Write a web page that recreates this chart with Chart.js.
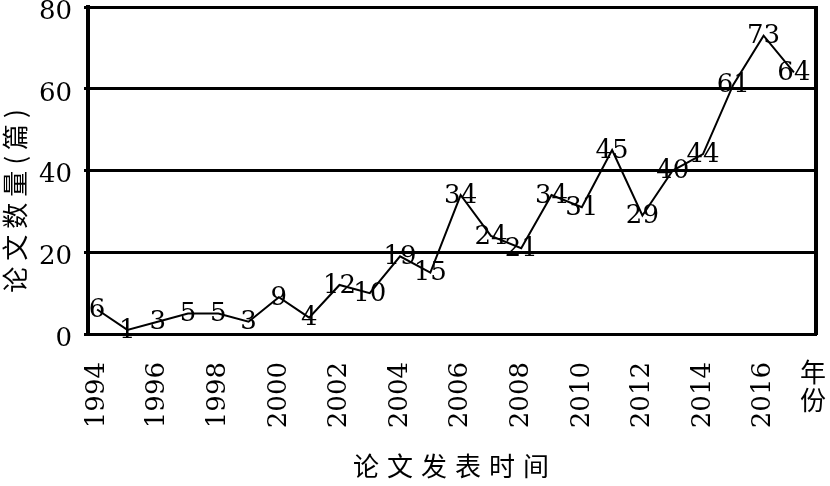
<!DOCTYPE html>
<html>
<head>
<meta charset="utf-8">
<script src="https://cdn.jsdelivr.net/npm/chart.js@4.4.1/dist/chart.umd.min.js"></script>
<style>
  body { margin: 0; background: #fff; }
  canvas { display: block; }
</style>
</head>
<body>
<canvas id="myChart" width="830" height="486"></canvas>
<script>
// data
const years = [1994, 1995, 1996, 1997, 1998, 1999, 2000, 2001, 2002, 2003, 2004, 2005,
  2006, 2007, 2008, 2009, 2010, 2011, 2012, 2013, 2014, 2015, 2016, 2017];
const counts = [6, 1, 3, 5, 5, 3, 9, 4, 12, 10, 19, 15,
  34, 24, 21, 34, 31, 45, 29, 40, 44, 61, 73, 64];
const xTickYears = [1994, 1996, 1998, 2000, 2002, 2004, 2006, 2008, 2010, 2012, 2014, 2016];
const yTicks = [0, 20, 40, 60, 80];
const lastXLabel = "年份";
const xTitle = "论文发表时间";
const yTitle = "论文数量(篇)";

const serif = "'DejaVu Serif', 'Liberation Serif', serif";
const cjk = "'Noto Sans CJK SC', sans-serif";

// labels on points, right border, titles
const extras = {
  id: "extras",
  afterDatasetsDraw(chart) {
    const ctx = chart.ctx;
    const area = chart.chartArea;
    const meta = chart.getDatasetMeta(0);
    ctx.save();
    ctx.fillStyle = "#000";
    ctx.font = "26px " + serif;
    ctx.textAlign = "center";
    ctx.textBaseline = "middle";
    meta.data.forEach((pt, i) => {
      ctx.fillText(String(counts[i]), pt.x, pt.y + 1);
    });

    // right frame line
    ctx.strokeStyle = "#000";
    ctx.lineWidth = 4;
    ctx.beginPath();
    ctx.moveTo(area.right, area.top - 1);
    ctx.lineTo(area.right, area.bottom + 1);
    ctx.stroke();
    ctx.restore();
  },
  afterDraw(chart) {
    const ctx = chart.ctx;
    const area = chart.chartArea;
    const xs = chart.scales.x;
    ctx.save();
    ctx.fillStyle = "#000";
    ctx.textAlign = "center";
    ctx.textBaseline = "middle";

    // upright label at the last year
    ctx.font = "26px " + cjk;
    const lx = xs.getPixelForValue(years[years.length - 1]) + 19;
    lastXLabel.split("").forEach((ch, i) => {
      ctx.fillText(ch, lx, area.bottom + 38 + i * 28);
    });

    // x title
    ctx.font = "26px " + cjk;
    ctx.letterSpacing = "8px";
    ctx.fillText(xTitle, 455, 466);

    // y title
    ctx.letterSpacing = "6px";
    ctx.translate(15, 198);
    ctx.rotate(-Math.PI / 2);
    ctx.fillText(yTitle, 0, 0);
    ctx.restore();
  },
};

const ctx = document.getElementById("myChart").getContext("2d");
const chart = new Chart(ctx, {
  type: "line",
  data: {
    datasets: [
      {
        data: years.map((y, i) => ({ x: y, y: counts[i] })),
        borderColor: "#000",
        borderWidth: 2,
        pointRadius: 0,
        tension: 0,
        fill: false,
      },
    ],
  },
  options: {
    responsive: false,
    animation: false,
    devicePixelRatio: 1,
    layout: { padding: { left: 0, right: 14, top: 7, bottom: 0 } },
    plugins: { legend: { display: false }, tooltip: { enabled: false } },
    scales: {
      x: {
        type: "linear",
        min: 1993.7,
        max: 2017.73,
        afterBuildTicks(s) {
          s.ticks = xTickYears.map((v) => ({ value: v }));
        },
        afterFit(s) {
          s.height = 152;
          s.paddingLeft = 0;
          s.paddingRight = 0;
        },
        grid: { display: false, drawTicks: false },
        border: { display: true, color: "#000", width: 3 },
        ticks: {
          autoSkip: false,
          minRotation: 90,
          maxRotation: 90,
          padding: 28,
          color: "#000",
          font: { family: serif, size: 26 },
          callback: (v) => String(v),
        },
      },
      y: {
        min: 0,
        max: 80,
        afterBuildTicks(s) {
          s.ticks = yTicks.map((v) => ({ value: v }));
        },
        afterFit(s) {
          s.width = 88;
          s.paddingTop = 0;
          s.paddingBottom = 0;
        },
        grid: { color: "#000", lineWidth: 3, tickLength: 4 },
        border: { display: true, color: "#000", width: 4 },
        ticks: {
          padding: 12,
          labelOffset: 5,
          color: "#000",
          font: { family: serif, size: 26 },
        },
      },
    },
  },
  plugins: [extras],
});
</script>
</body>
</html>
